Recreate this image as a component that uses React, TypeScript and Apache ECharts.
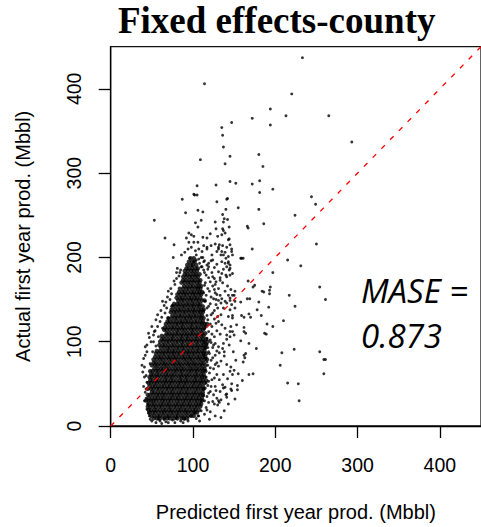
import React, { useEffect, useRef } from "react";
import * as echarts from "echarts";

// Tick values shared by both axes (Mbbl)
const axisTicks = [0, 100, 200, 300, 400];

// Dense core of the cloud: one row per actual value, with the predicted values read along it
const coreActual = [
  9, 12, 16, 19, 23, 26, 30, 33, 37, 40, 44, 47, 51, 54, 58, 61, 65, 68, 72, 75, 79, 82, 86, 89,
  93, 96, 100, 103, 107, 110, 114, 117, 121, 124, 128, 131, 135, 138, 142, 145, 149, 152, 156,
  159, 163, 166, 170, 173, 177, 180, 184, 187, 191, 195, 199,
];
const corePredicted: number[][] = [
  [52, 56, 60, 65, 69, 72, 77, 81, 86, 89, 93],
  [49, 53, 57, 60, 64, 68, 71, 75, 79, 82, 86, 90, 94, 98, 101],
  [47, 51, 54, 58, 62, 65, 69, 73, 76, 80, 83, 87, 91, 94, 98, 102, 105],
  [46, 49, 53, 56, 60, 64, 67, 71, 74, 78, 82, 85, 89, 92, 96, 100, 103, 107],
  [45, 48, 52, 55, 59, 62, 66, 70, 73, 77, 80, 84, 87, 91, 95, 98, 102, 105, 109],
  [46, 50, 53, 57, 61, 64, 68, 71, 75, 79, 82, 86, 89, 93, 96, 100, 104, 107, 110],
  [43, 46, 49, 52, 55, 59, 63, 66, 70, 73, 77, 81, 84, 88, 91, 95, 98, 102, 105, 109, 111],
  [46, 50, 54, 57, 61, 64, 68, 72, 75, 79, 82, 86, 90, 93, 97, 100, 104, 107, 111],
  [45, 48, 52, 56, 59, 63, 66, 70, 74, 77, 81, 84, 88, 92, 95, 99, 102, 106, 109, 112],
  [50, 53, 57, 61, 64, 68, 72, 75, 79, 83, 86, 90, 93, 97, 101, 104, 108, 112],
  [45, 49, 52, 56, 59, 63, 67, 70, 74, 77, 81, 85, 88, 92, 95, 99, 103, 106, 110, 113],
  [47, 51, 54, 58, 62, 65, 69, 72, 76, 80, 83, 87, 90, 94, 98, 101, 105, 108, 112],
  [46, 49, 53, 56, 60, 64, 67, 71, 74, 78, 82, 85, 89, 92, 96, 100, 103, 107, 110, 114],
  [48, 51, 55, 58, 62, 66, 69, 73, 76, 80, 84, 87, 91, 94, 98, 102, 105, 109, 112, 116],
  [47, 50, 54, 57, 61, 65, 68, 72, 75, 79, 83, 86, 90, 93, 97, 101, 104, 108, 111, 114],
  [49, 52, 56, 59, 63, 67, 70, 74, 77, 81, 85, 88, 92, 95, 99, 103, 106, 110, 113],
  [48, 51, 55, 58, 62, 66, 69, 73, 77, 80, 84, 87, 91, 95, 98, 102, 105, 109, 112, 115],
  [53, 57, 61, 64, 68, 71, 75, 79, 82, 86, 89, 93, 97, 100, 104, 107, 111, 114],
  [50, 54, 57, 61, 65, 68, 72, 76, 79, 83, 86, 90, 94, 97, 101, 104, 108, 111, 115],
  [52, 55, 59, 63, 66, 70, 74, 77, 81, 84, 88, 92, 95, 99, 102, 106, 110, 113],
  [52, 56, 60, 63, 67, 71, 74, 78, 81, 85, 89, 92, 96, 99, 103, 107, 110, 114, 117],
  [54, 58, 61, 65, 69, 72, 76, 79, 83, 87, 90, 94, 97, 101, 105, 108, 112, 115],
  [55, 59, 63, 66, 70, 74, 77, 81, 84, 88, 92, 95, 99, 102, 106, 110, 113, 116],
  [56, 60, 64, 68, 71, 75, 78, 82, 86, 89, 93, 96, 100, 104, 107, 111, 114],
  [61, 65, 69, 72, 76, 80, 83, 87, 90, 94, 98, 101, 105, 108, 112, 115],
  [59, 63, 66, 70, 74, 77, 81, 85, 88, 92, 95, 99, 103, 106, 110, 113, 116],
  [60, 64, 68, 71, 75, 79, 82, 86, 89, 93, 97, 100, 104, 107, 111, 114, 118],
  [62, 65, 69, 73, 76, 80, 84, 87, 91, 94, 98, 102, 105, 109, 112, 116],
  [62, 66, 70, 74, 77, 81, 85, 88, 92, 95, 99, 103, 106, 110, 113],
  [68, 71, 75, 79, 82, 86, 90, 93, 97, 100, 104, 108, 111, 115],
  [65, 68, 72, 76, 80, 83, 87, 90, 94, 98, 101, 105, 109, 112],
  [66, 70, 74, 77, 81, 85, 88, 92, 96, 99, 103, 106, 110, 114],
  [67, 71, 75, 79, 82, 86, 89, 93, 97, 100, 104, 108, 111, 114, 117],
  [69, 72, 76, 80, 84, 87, 91, 94, 98, 102, 105, 109, 112],
  [70, 74, 78, 81, 85, 89, 92, 96, 99, 103, 107, 110, 113],
  [75, 79, 83, 86, 90, 94, 97, 101, 104, 108, 111],
  [73, 77, 80, 84, 88, 91, 95, 99, 102, 106, 109, 112],
  [74, 78, 82, 85, 89, 93, 96, 100, 103, 107, 110, 113],
  [75, 79, 83, 87, 90, 94, 98, 101, 105, 108, 112],
  [77, 81, 84, 88, 92, 95, 99, 102, 106, 109],
  [82, 86, 89, 93, 97, 100, 104, 107, 111, 114],
  [80, 84, 87, 91, 95, 98, 102, 105, 109],
  [81, 85, 89, 92, 96, 100, 103, 107, 110],
  [83, 87, 90, 94, 98, 101, 105, 108, 111],
  [84, 88, 92, 95, 99, 103, 106, 109],
  [89, 93, 97, 100, 104, 107, 110],
  [86, 90, 94, 97, 101, 105, 108],
  [88, 91, 95, 99, 102, 106, 109],
  [88, 92, 96, 99, 103, 106],
  [90, 93, 97, 101, 104, 108],
  [90, 94, 98, 101, 105],
  [92, 95, 99, 103, 106],
  [93, 97, 100, 104],
  [95, 99, 102],
  [97, 101],
];

// Scattered wells around the core and outliers: [predicted, actual]
const spreadPoints: [number, number][] = [
  // outliers
  [233, 437], [114, 406], [220, 394], [194, 376], [213, 368], [265, 368], [172, 365], [194, 357],
  [147, 360], [135, 354], [136, 345], [137, 331], [293, 337], [145, 320], [180, 322], [109, 316],
  [139, 311], [185, 308], [105, 285], [128, 286], [145, 290], [152, 288], [172, 287], [181, 291],
  [197, 281], [181, 277], [87, 269], [102, 274], [105, 274], [129, 266], [142, 270], [244, 272],
  [249, 263], [155, 259], [180, 257], [91, 253], [106, 256], [112, 254], [140, 257], [224, 250],
  [53, 244], [110, 244], [186, 240], [166, 237], [167, 235], [142, 245], [127, 242], [136, 251],
  [66, 223], [77, 215], [250, 216], [172, 210], [76, 200], [81, 187], [215, 197], [231, 190],
  [159, 199], [161, 199], [197, 182], [254, 165], [167, 172], [175, 167], [173, 165], [194, 165],
  [193, 161], [193, 157], [186, 159], [217, 155], [261, 150], [192, 141], [224, 142], [210, 125],
  [190, 121], [197, 118], [187, 110], [189, 109], [168, 98], [177, 92], [223, 91], [208, 87],
  [254, 88], [259, 79], [261, 79], [206, 72], [259, 62], [215, 51], [228, 50], [229, 30],
  [134, 10], [107, 12], [173, 62], [168, 61], [160, 54], [154, 43], [147, 42], [163, 81],
  [164, 86], [162, 84], [161, 76], [162, 117], [164, 110], [162, 112], [170, 129], [168, 133],
  [159, 131], [162, 129], [158, 101], [166, 151], [158, 147], [150, 155], [180, 147], [178, 138],
  [183, 131], [169, 151], [140, 37], [141, 34], [132, 28], [134, 31], [146, 44], [154, 48],
  [126, 26], [130, 25], [184, 160],
  // upper part of the cloud
  [101, 275], [141, 269], [138, 246], [103, 241], [106, 236], [137, 242], [128, 234], [136, 234],
  [144, 236], [95, 229], [98, 227], [101, 225], [112, 224], [117, 223], [121, 228], [130, 225],
  [135, 227], [143, 221], [92, 223], [95, 218], [101, 218], [106, 218], [113, 214], [117, 212],
  [122, 214], [127, 216], [131, 212], [136, 214], [141, 212], [147, 210], [86, 203], [90, 206],
  [94, 210], [98, 212], [103, 208], [107, 210], [111, 207], [117, 210], [123, 203], [129, 207],
  [134, 203], [139, 206], [143, 201], [148, 203], [158, 199], [143, 193], [145, 187], [148, 181],
  [101, 195], [107, 198], [113, 195], [119, 193], [124, 197], [129, 192], [135, 195], [84, 182],
  [96, 199], [99, 190], [104, 197], [110, 189], [114, 182], [118, 186], [126, 188], [131, 183],
  [137, 186], [140, 179], [133, 176], [128, 171], [136, 170], [142, 166], [146, 162], [139, 160],
  [131, 163], [127, 158], [134, 146], [130, 140], [139, 148], [145, 152], [151, 140], [148, 128],
  [153, 120], [150, 108], [144, 96], [149, 88], [152, 78], [146, 70], [150, 66], [155, 62],
  [142, 56], [147, 50], [137, 45], [151, 32], [143, 26], [138, 18], [127, 12], [120, 8],
  [146, 118], [141, 103], [137, 98], [138, 88],
  // right side of the cloud
  [137, 232], [139, 229], [144, 222], [145, 215], [147, 207], [132, 215], [135, 207], [131, 210],
  [137, 203], [140, 199], [143, 195], [145, 191], [141, 189], [144, 185], [139, 193], [135, 181],
  [141, 177], [145, 179], [133, 173], [148, 155], [151, 160], [143, 155], [145, 149], [141, 146],
  [147, 144], [151, 148], [133, 155], [135, 151], [131, 149], [137, 140], [134, 132], [145, 138],
  [143, 130], [148, 131], [131, 124], [135, 120], [139, 116], [145, 112], [148, 112], [133, 109],
  [141, 108], [145, 106], [131, 94], [136, 92], [132, 87], [138, 83], [134, 77], [141, 73],
  [131, 71], [145, 65], [148, 61], [137, 61], [132, 55], [136, 49], [139, 46], [133, 41],
  [141, 38], [131, 30],
  [116, 22], [119, 28], [117, 35], [121, 41], [118, 48], [123, 55], [116, 58], [120, 63],
  [125, 68], [118, 72], [122, 78], [127, 84], [119, 88], [124, 93], [117, 97], [121, 102],
  [126, 106], [119, 112], [123, 118], [128, 122], [118, 126], [122, 132], [126, 137], [117, 140],
  [121, 145], [125, 151], [116, 155], [120, 160], [124, 166], [115, 170], [119, 176], [123, 182],
  [113, 185], [117, 191], [122, 196], [112, 200], [127, 47], [129, 33], [127, 98], [129, 75],
  [128, 150], [126, 175], [130, 130], [114, 115], [115, 92], [116, 80], [115, 45], [114, 30],
  [114, 14], [117, 19], [121, 17], [124, 29], [113, 36], [119, 39], [125, 37], [122, 47],
  [128, 42], [116, 51], [113, 44], [119, 53], [126, 57], [129, 61], [115, 66], [121, 69],
  [127, 73], [117, 76], [124, 81], [113, 84], [120, 86], [129, 89], [118, 93], [125, 96],
  [114, 99], [122, 99], [117, 104], [123, 109], [129, 113], [115, 118], [121, 121], [126, 127],
  [117, 131], [124, 134], [113, 137], [119, 142], [128, 144], [115, 148], [122, 153], [129, 156],
  [113, 158], [118, 163], [126, 162], [114, 167], [121, 171], [127, 168], [116, 179], [124, 177],
  [111, 189], [119, 189], [114, 196], [108, 193], [110, 200], [104, 203],
  // left side and bottom edge of the cloud
  [40, 80], [42, 94], [40, 47], [42, 40], [45, 26], [50, 6], [49, 100], [54, 113],
  [60, 124], [66, 134], [74, 157], [75, 143], [43, 60], [41, 70], [44, 88], [47, 105],
  [43, 33], [44, 52], [47, 12], [52, 100], [57, 118], [62, 129], [68, 140], [72, 150],
  [52, 108], [58, 106], [63, 116], [46, 15], [48, 74], [51, 88], [55, 95], [67, 147],
  [70, 160], [78, 168], [80, 175], [83, 178], [85, 185], [70, 128], [38, 72], [41, 58],
  [39, 64], [44, 96], [42, 84], [46, 110], [50, 118], [55, 126], [61, 137], [65, 143],
  [69, 153], [73, 163], [77, 172], [80, 182], [43, 44], [41, 30], [44, 20], [48, 8],
  [53, 112], [57, 132], [63, 148], [55, 4], [60, 6], [65, 8], [70, 4], [75, 7],
  [80, 9], [85, 6], [90, 8], [97, 12], [102, 15], [106, 12], [110, 18], [104, 9],
  [108, 6], [58, 8], [67, 5], [78, 4], [88, 4], [94, 6], [62, 3],
];

// 1:1 reference line
const identityLine: [number, number][] = [
  [0, 0],
  [450, 450],
];

export default function App() {
  const ref = useRef<HTMLDivElement>(null);

  useEffect(() => {
    if (!ref.current) return;
    const chart = echarts.init(ref.current, null, { renderer: "svg" });
    const core: [number, number][] = [];
    coreActual.forEach((y, i) => {
      corePredicted[i].forEach((x) => core.push([x, y]));
    });

    const axisCommon = {
      type: "value" as const,
      min: 0,
      max: 450,
      interval: 100,
      nameLocation: "middle" as const,
      nameTextStyle: { fontSize: 20, color: "#000", fontFamily: "Liberation Sans" },
      axisLine: { show: true, lineStyle: { color: "#000", width: 1.3 } },
      splitLine: { show: false },
      axisTick: {
        show: true,
        inside: false,
        length: 12,
        customValues: axisTicks,
        lineStyle: { color: "#000", width: 1.3 },
      },
    };

    chart.setOption({
      animation: false,
      backgroundColor: "#fff",
      textStyle: { fontFamily: "Liberation Sans" },
      grid: {
        left: 110.7,
        top: 46.7,
        width: 381.6,
        height: 381.6,
        show: true,
        borderColor: "#111",
        borderWidth: 1.3,
        backgroundColor: "transparent",
        containLabel: false,
      },
      xAxis: {
        ...axisCommon,
        name: "Predicted first year prod. (Mbbl)",
        nameGap: 76,
        axisLabel: {
          customValues: axisTicks,
          margin: 29,
          fontSize: 19.5,
          color: "#000",
          fontFamily: "Liberation Sans",
        },
      },
      yAxis: {
        ...axisCommon,
        name: "Actual first year prod. (Mbbl)",
        nameGap: 78,
        axisLabel: {
          customValues: axisTicks,
          margin: 27,
          rotate: 90,
          fontSize: 19.5,
          color: "#000",
          fontFamily: "Liberation Sans",
        },
      },
      series: [
        {
          type: "scatter",
          data: core,
          symbol: "circle",
          symbolSize: 4.4,
          itemStyle: { color: "#000" },
          silent: true,
          z: 2,
        },
        {
          type: "scatter",
          data: spreadPoints,
          symbol: "circle",
          symbolSize: 2.9,
          itemStyle: { color: "#000" },
          silent: true,
          z: 2,
        },
        {
          type: "line",
          data: identityLine,
          symbol: "none",
          lineStyle: { color: "#ff0000", width: 1.3, type: [5, 7.5] },
          silent: true,
          z: 5,
        },
      ],
      graphic: [
        {
          type: "text",
          x: 276.7,
          y: 20.8,
          style: {
            text: "Fixed effects-county",
            fontSize: 37,
            fontWeight: "bold",
            fontFamily: "Liberation Serif",
            fill: "#000",
            align: "center",
            verticalAlign: "middle",
          },
        },
        {
          type: "text",
          x: 361,
          y: 290,
          style: {
            text: "MASE =",
            fontSize: 33,
            fontStyle: "italic",
            fontFamily: "Open Sans",
            fill: "#000",
            align: "left",
            verticalAlign: "middle",
          },
        },
        {
          type: "text",
          x: 361,
          y: 335.4,
          style: {
            text: "0.873",
            fontSize: 33,
            fontStyle: "italic",
            fontFamily: "Open Sans",
            fill: "#000",
            align: "left",
            verticalAlign: "middle",
          },
        },
      ],
    });

    return () => chart.dispose();
  }, []);

  return (
    <div
      ref={ref}
      style={{ position: "fixed", left: 0, top: 0, width: 481, height: 527, background: "#fff" }}
    />
  );
}
